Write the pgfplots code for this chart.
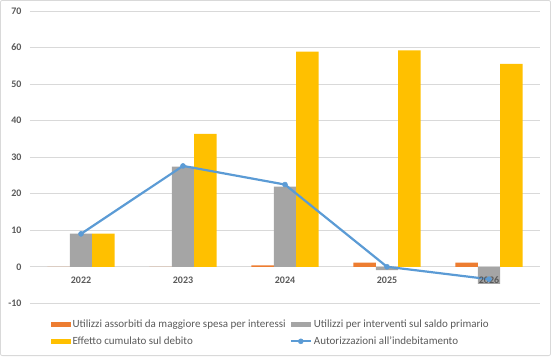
\documentclass[border=0pt]{standalone}
\usepackage{pgfplots}
\pgfplotsset{compat=1.18}
\usepackage{fontspec}
\setmainfont{Carlito}
\definecolor{cOr}{HTML}{ED7D31}
\definecolor{cGr}{HTML}{A5A5A5}
\definecolor{cYe}{HTML}{FFC000}
\definecolor{cBl}{HTML}{5B9BD5}
\definecolor{cTx}{HTML}{595959}
\definecolor{cGrid}{HTML}{D9D9D9}
\pgfplotsset{
  mybarlegend/.style={legend image code/.code={\fill[#1] (0pt,-2.5pt) rectangle (20pt,2.5pt);}},
  mylinelegend/.style={legend image code/.code={\draw[#1, mark repeat=2, mark phase=2] plot coordinates {(0pt,0pt) (10pt,0pt) (20pt,0pt)};}},
}
\begin{document}
\begin{tikzpicture}[x=1pt,y=1pt]
\begin{axis}[
  scale only axis, width=510pt, height=292.3pt,
  xmin=-0.5, xmax=4.5, ymin=-10, ymax=70,
  axis line style={draw=none},
  ytick={-10,0,...,70}, yticklabels={-10,0,10,20,30,40,50,60,70},
  xtick=\empty,
  major tick length=0,
  ymajorgrids, grid style={cGrid, line width=0.75pt},
  tick label style={font=\fontsize{10}{11}\selectfont\bfseries, text=cTx},
  yticklabel style={xshift=-5pt},
  legend columns=2,
  legend cell align=left,
  legend style={at={(0.04,-0.048)}, anchor=north west, draw=none, fill=none, inner sep=0pt,
    font=\fontsize{11}{12}\selectfont, text=cTx,
    /tikz/every even column/.append style={column sep=2pt},
    row sep=4pt},
]
\coordinate (sw) at (rel axis cs:0,0);
\addplot[ybar, bar width=0.22, bar shift=-0.22, fill=cOr, draw=none, mybarlegend]
  coordinates {(0,0) (1,0) (2,0.4) (3,1.1) (4,1.1)};
\addlegendentry{Utilizzi assorbiti da maggiore spesa per interessi}
\addplot[ybar, bar width=0.22, bar shift=0, fill=cGr, draw=none, mybarlegend]
  coordinates {(0,9.1) (1,27.4) (2,21.9) (3,-0.9) (4,-4.7)};
\addlegendentry{Utilizzi per interventi sul saldo primario}
\addplot[ybar, bar width=0.22, bar shift=0.22, fill=cYe, draw=none, mybarlegend]
  coordinates {(0,9.1) (1,36.4) (2,58.9) (3,59.2) (4,55.5)};
\addlegendentry{Effetto cumulato sul debito}
\addplot[cBl, line width=2.2pt, mark=*, mark size=2.5pt, mark options={fill=cBl, line width=0.5pt}, mylinelegend]
  coordinates {(0,9.0) (1,27.6) (2,22.5) (3,0) (4,-3.4)};
\addlegendentry{Autorizzazioni all'indebitamento}
\begin{scope}[every node/.style={font=\fontsize{10}{11}\selectfont\bfseries, text=cTx, inner sep=0pt}]
\node at (axis cs:0,-3.65) {2022};
\node at (axis cs:1,-3.65) {2023};
\node at (axis cs:2,-3.65) {2024};
\node at (axis cs:3,-3.65) {2025};
\node at (axis cs:4,-3.65) {2026};
\end{scope}
\end{axis}
\draw[cGrid, line width=0.8pt, rounded corners=2pt] ([shift={(-29.6,-52.3)}]sw) rectangle ([shift={(520.6,302.9)}]sw);
\pgfresetboundingbox
\useasboundingbox ([shift={(-30,-52.7)}]sw) rectangle ([shift={(521,303.3)}]sw);
\end{tikzpicture}
\end{document}
